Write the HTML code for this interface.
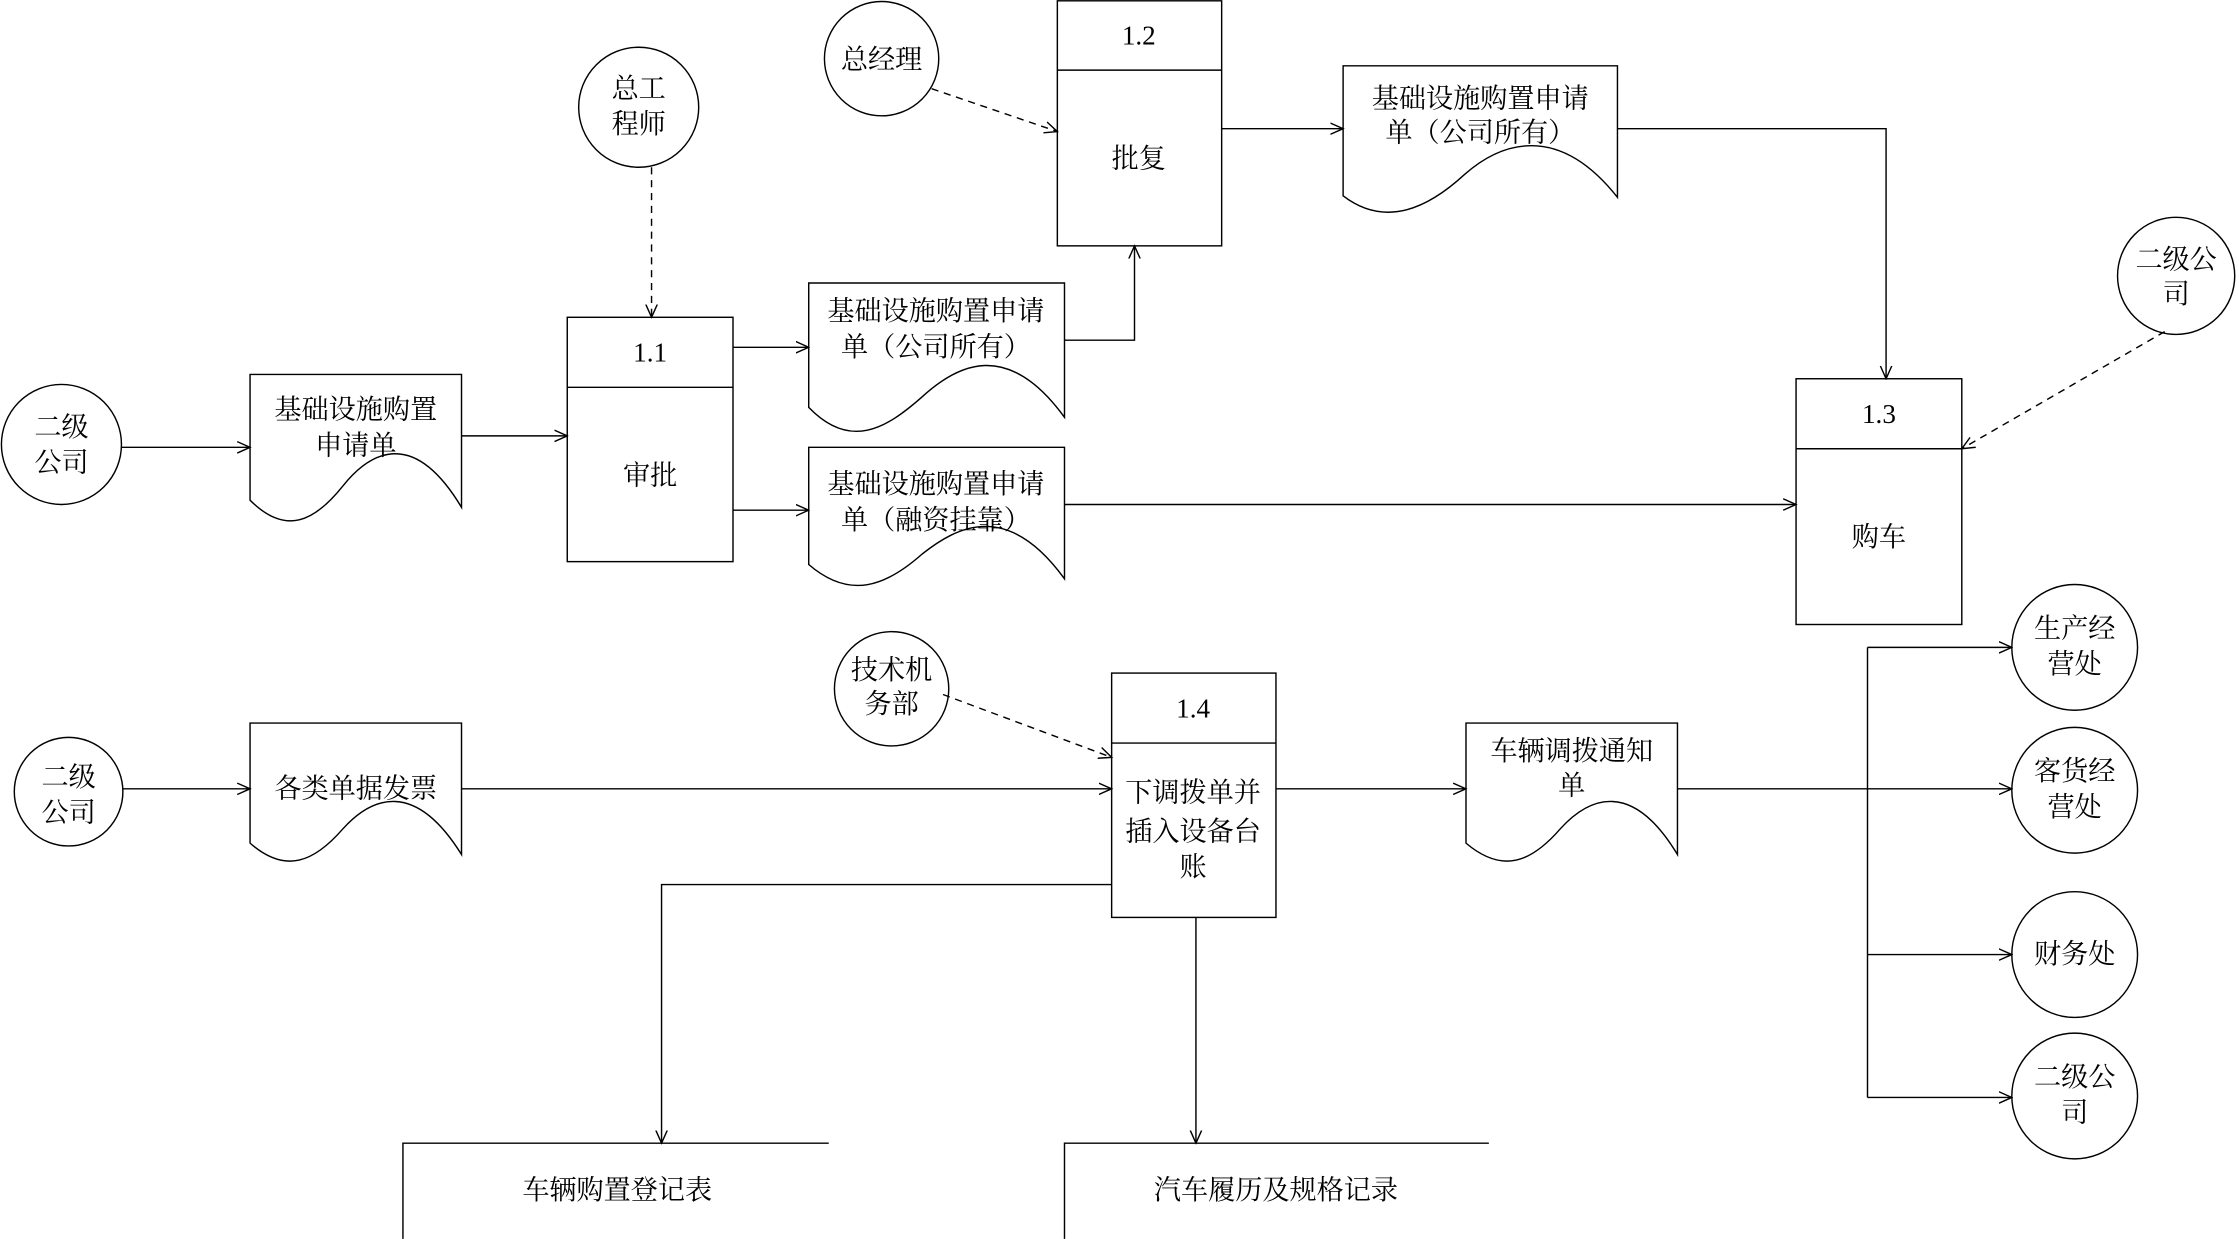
<!DOCTYPE html>
<html><head><meta charset="utf-8"><style>
html,body{margin:0;padding:0;background:#fff}
svg{display:block}
text{font-family:"Liberation Serif","Noto Serif CJK SC",serif;font-size:19px;fill:#000;text-anchor:middle}
</style></head><body>
<svg width="2239" height="1239" viewBox="0 0 1567 867" xmlns="http://www.w3.org/2000/svg">
<defs>
<marker id="a" markerWidth="10" markerHeight="10" refX="9" refY="5" orient="auto" markerUnits="userSpaceOnUse">
<path d="M0,1 L9,5 L0,9" fill="none" stroke="#000" stroke-width="1"/></marker>
</defs>
<g fill="none" stroke="#000" stroke-width="1">
<!-- circles -->
<circle cx="43" cy="311" r="42"/>
<circle cx="447" cy="75" r="42"/>
<circle cx="617" cy="41" r="40"/>
<circle cx="1523" cy="193" r="41"/>
<circle cx="48" cy="554" r="38"/>
<circle cx="624" cy="482" r="40"/>
<circle cx="1452" cy="453" r="44"/>
<circle cx="1452" cy="553" r="44"/>
<circle cx="1452" cy="668" r="44"/>
<circle cx="1452" cy="767" r="44"/>
<!-- boxes -->
<rect x="397" y="222" width="116" height="171"/><line x1="397" y1="271" x2="513" y2="271"/>
<rect x="740" y="0.5" width="115" height="171.5"/><line x1="740" y1="49" x2="855" y2="49"/>
<rect x="1257" y="265" width="116" height="172"/><line x1="1257" y1="314" x2="1373" y2="314"/>
<rect x="778" y="471" width="115" height="171"/><line x1="778" y1="520" x2="893" y2="520"/>
<!-- documents -->
<path d="M175,262 H323 V355 C290,300 260,315 240,340 C220,365 200,375 175,350 Z"/>
<path d="M566,198 H745 V292 C705,237 670,255 645,278 C620,300 595,315 566,285 Z"/>
<path d="M566,313 H745 V405 C705,350 670,368 645,388 C620,410 595,420 566,395 Z"/>
<path d="M940,46 H1132 V138 C1090,85 1050,100 1025,122 C1000,145 970,160 940,137 Z"/>
<path d="M175,506 H323 V598 C290,545 260,558 240,580 C220,603 200,612 175,590 Z"/>
<path d="M1026,506 H1174 V598 C1142,545 1112,558 1092,580 C1072,603 1052,612 1026,590 Z"/>
<!-- data stores -->
<path d="M580,800 H282 V867"/>
<path d="M1042,800 H745 V867"/>
<!-- arrows -->
<line x1="85" y1="313" x2="175" y2="313" marker-end="url(#a)"/>
<line x1="323" y1="305" x2="397" y2="305" marker-end="url(#a)"/>
<line x1="456" y1="117" x2="456" y2="222" stroke-dasharray="5,4" marker-end="url(#a)"/>
<line x1="513" y1="243" x2="566" y2="243" marker-end="url(#a)"/>
<path d="M745,238 H794 V172" marker-end="url(#a)"/>
<line x1="513" y1="357" x2="566" y2="357" marker-end="url(#a)"/>
<line x1="745" y1="353" x2="1257" y2="353" marker-end="url(#a)"/>
<line x1="652" y1="62" x2="740" y2="92" stroke-dasharray="5,4" marker-end="url(#a)"/>
<line x1="855" y1="90" x2="940" y2="90" marker-end="url(#a)"/>
<path d="M1132,90 H1320 V265" marker-end="url(#a)"/>
<line x1="1515" y1="232" x2="1373" y2="314" stroke-dasharray="5,4" marker-end="url(#a)"/>
<line x1="86" y1="552" x2="175" y2="552" marker-end="url(#a)"/>
<line x1="323" y1="552" x2="778" y2="552" marker-end="url(#a)"/>
<line x1="660" y1="486" x2="778" y2="530" stroke-dasharray="5,4" marker-end="url(#a)"/>
<line x1="893" y1="552" x2="1026" y2="552" marker-end="url(#a)"/>
<line x1="1174" y1="552" x2="1307" y2="552"/>
<line x1="1307" y1="453" x2="1307" y2="768"/>
<line x1="1307" y1="453" x2="1408" y2="453" marker-end="url(#a)"/>
<line x1="1307" y1="552" x2="1408" y2="552" marker-end="url(#a)"/>
<line x1="1307" y1="668" x2="1408" y2="668" marker-end="url(#a)"/>
<line x1="1307" y1="768" x2="1408" y2="768" marker-end="url(#a)"/>
<path d="M778,619 H463 V800" marker-end="url(#a)"/>
<line x1="837" y1="642" x2="837" y2="800" marker-end="url(#a)"/>
</g>
<g>
<text x="43" y="305">二级</text><text x="43" y="330">公司</text>
<text x="447" y="68">总工</text><text x="447" y="93">程师</text>
<text x="617" y="48">总经理</text>
<text x="1523" y="188">二级公</text><text x="1523" y="212">司</text>
<text x="48" y="550">二级</text><text x="48" y="575">公司</text>
<text x="624" y="475">技术机</text><text x="624" y="499">务部</text>
<text x="1452" y="446">生产经</text><text x="1452" y="471">营处</text>
<text x="1452" y="546">客货经</text><text x="1452" y="571">营处</text>
<text x="1452" y="674">财务处</text>
<text x="1452" y="760">二级公</text><text x="1452" y="785">司</text>
<text x="455" y="253">1.1</text><text x="455" y="339">审批</text>
<text x="797" y="31">1.2</text><text x="797" y="117">批复</text>
<text x="1315" y="296">1.3</text><text x="1315" y="382">购车</text>
<text x="835" y="502">1.4</text>
<text x="835" y="561">下调拨单并</text><text x="835" y="588">插入设备台</text><text x="835" y="613">账</text>
<text x="249" y="293">基础设施购置</text><text x="249" y="318">申请单</text>
<text x="655" y="224">基础设施购置申请</text><text x="655" y="249">单（公司所有）</text>
<text x="655" y="345">基础设施购置申请</text><text x="655" y="370">单（融资挂靠）</text>
<text x="1036" y="75">基础设施购置申请</text><text x="1036" y="99">单（公司所有）</text>
<text x="249" y="558">各类单据发票</text>
<text x="1100" y="532">车辆调拨通知</text><text x="1100" y="556">单</text>
<text x="432" y="839">车辆购置登记表</text>
<text x="893" y="839">汽车履历及规格记录</text>
</g>
</svg>
</body></html>
